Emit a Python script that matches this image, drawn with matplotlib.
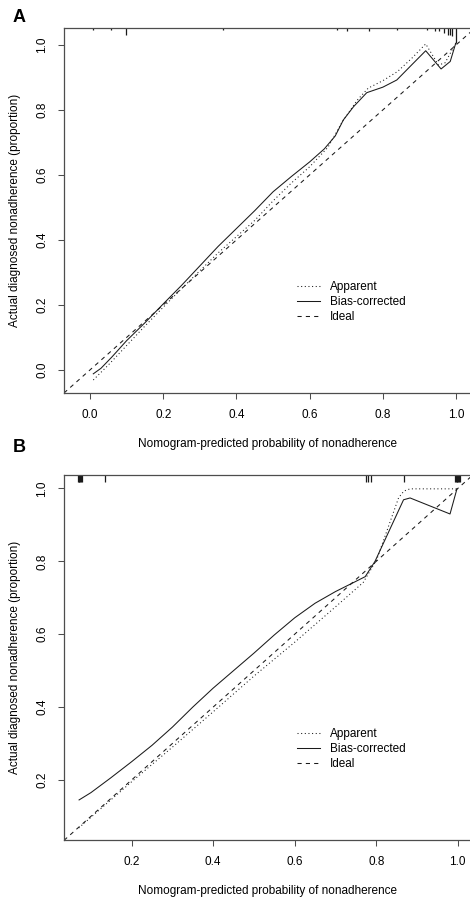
import numpy as np
import matplotlib
matplotlib.use("Agg")
import matplotlib.pyplot as plt

plt.rcParams["font.family"] = ["Liberation Sans", "DejaVu Sans"]
plt.rcParams["font.size"] = 8.5

# panel A: calibration curves
a_app_x = [0.009, 0.05, 0.10, 0.15, 0.20, 0.25, 0.30, 0.35, 0.40, 0.45, 0.50, 0.55,
           0.60, 0.65, 0.69, 0.73, 0.76, 0.80, 0.84, 0.88, 0.917, 0.952, 0.97, 0.999]
a_app_y = [-0.031, 0.015, 0.075, 0.135, 0.193, 0.25, 0.305, 0.36, 0.41, 0.46, 0.52, 0.575,
           0.625, 0.685, 0.765, 0.83, 0.867, 0.89, 0.918, 0.96, 1.003, 0.938, 0.945, 1.005]
a_bc_x = [0.009, 0.03, 0.06, 0.10, 0.15, 0.20, 0.25, 0.30, 0.35, 0.40, 0.45, 0.50, 0.55,
          0.60, 0.64, 0.67, 0.692, 0.72, 0.756, 0.80, 0.838, 0.88, 0.917, 0.959, 0.984, 0.999]
a_bc_y = [-0.012, 0.005, 0.04, 0.09, 0.145, 0.203, 0.26, 0.32, 0.38, 0.435, 0.49, 0.548, 0.595,
          0.64, 0.68, 0.72, 0.769, 0.81, 0.853, 0.87, 0.892, 0.94, 0.982, 0.926, 0.949, 1.005]
# panel A: spike histogram of predictions (relative heights)
a_spike_x = [0.007, 0.057, 0.098, 0.364, 0.674, 0.701, 0.761, 0.838, 0.92, 0.943,
             0.952, 0.968, 0.977, 0.984, 0.99, 0.999]
a_spike_h = [2, 2, 7, 2, 2, 3, 3, 2, 2, 3, 3, 5, 7, 7, 8, 15]

# panel B
b_app_x = [0.07, 0.20, 0.30, 0.40, 0.50, 0.60, 0.70, 0.768, 0.801, 0.855, 0.868, 0.883, 0.998]
b_app_y = [0.068, 0.195, 0.29, 0.387, 0.485, 0.578, 0.675, 0.742, 0.804, 0.975, 0.993, 0.999, 0.999]
b_bc_x = [0.071, 0.10, 0.148, 0.20, 0.25, 0.30, 0.35, 0.40, 0.45, 0.50, 0.55, 0.60, 0.65,
          0.70, 0.75, 0.773, 0.797, 0.867, 0.883, 0.981, 0.998]
b_bc_y = [0.145, 0.165, 0.205, 0.25, 0.295, 0.345, 0.40, 0.452, 0.50, 0.548, 0.598, 0.645, 0.685,
          0.717, 0.745, 0.758, 0.80, 0.969, 0.974, 0.93, 0.999]
b_spike_x = [0.068, 0.070, 0.072, 0.074, 0.076, 0.078, 0.134, 0.775, 0.779, 0.787, 0.868,
             0.993, 0.995, 0.997, 0.999, 1.001, 1.003, 1.005]
b_spike_h = [7] * len(b_spike_x)

xticks_a = [0.0, 0.2, 0.4, 0.6, 0.8, 1.0]
yticks_a = [0.0, 0.2, 0.4, 0.6, 0.8, 1.0]
xticks_b = [0.2, 0.4, 0.6, 0.8, 1.0]
yticks_b = [0.2, 0.4, 0.6, 0.8, 1.0]

line_col = "#1a1a1a"
axis_col = "#4d4d4d"

fig = plt.figure(figsize=(4.70, 8.99), dpi=100)
W, H = 470.0, 899.0


def panel(box, xlim, ylim, xticks, yticks, app, bc, spikes):
    left, top, right, bottom = box
    ax = fig.add_axes([left / W, 1 - bottom / H, (right - left) / W, (bottom - top) / H])
    ax.set_xlim(*xlim)
    ax.set_ylim(*ylim)
    lo = min(xlim[0], ylim[0])
    hi = max(xlim[1], ylim[1])
    ax.plot(app[0], app[1], color=line_col, lw=0.75, ls=(0, (1, 2.5)), label="Apparent")
    ax.plot(bc[0], bc[1], color=line_col, lw=0.75, ls="-", label="Bias-corrected")
    ax.plot([lo, hi], [lo, hi], color=line_col, lw=0.75, ls=(0, (4, 4)), label="Ideal")
    # spikes hanging from the top edge
    h_px = bottom - top
    ys = [1 - h / h_px for h in spikes[1]]
    ax.vlines(spikes[0], ys, 1.0, colors=line_col, lw=0.9, transform=ax.get_xaxis_transform())
    ax.set_xticks(xticks)
    ax.set_yticks(yticks)
    ax.set_xticklabels(["%.1f" % v for v in xticks])
    ax.set_yticklabels(["%.1f" % v for v in yticks], rotation=90, va="center")
    ax.tick_params(direction="out", length=4.5, width=0.75, colors=axis_col, labelcolor="black")
    ax.tick_params(axis="x", pad=7)
    ax.tick_params(axis="y", pad=7)
    ax.spines["right"].set_visible(False)
    for s in ["left", "bottom", "top"]:
        ax.spines[s].set_color(axis_col)
        ax.spines[s].set_linewidth(0.9)
    ax.legend(loc="center left", bbox_to_anchor=((297 - left) / (right - left), 0.25),
              frameon=False, handlelength=1.95, handletextpad=0.85, labelspacing=0.25,
              borderpad=0, borderaxespad=0, fontsize=8.5)
    return ax


axA = panel((64, 28, 470, 393), (-0.071, 1.038), (-0.071, 1.052), xticks_a, yticks_a,
            (a_app_x, a_app_y), (a_bc_x, a_bc_y), (a_spike_x, a_spike_h))
axB = panel((64, 475, 470, 840), (0.034, 1.03), (0.035, 1.037), xticks_b, yticks_b,
            (b_app_x, b_app_y), (b_bc_x, b_bc_y), (b_spike_x, b_spike_h))

xlab = "Nomogram-predicted probability of nonadherence"
ylab = "Actual diagnosed nonadherence (proportion)"
for top, bottom, xlab_y in [(28, 393, 444), (475, 840, 891)]:
    fig.text(267 / W, 1 - xlab_y / H, xlab, ha="center", va="center", fontsize=8.5)
    fig.text(15 / W, 1 - (top + bottom) / 2 / H, ylab, ha="center", va="center",
             rotation=90, fontsize=8.5)
fig.text(19.5 / W, 1 - 18 / H, "A", ha="center", va="center", fontsize=13, fontweight="bold")
fig.text(19.5 / W, 1 - 448 / H, "B", ha="center", va="center", fontsize=13, fontweight="bold")

fig.savefig("out.png", dpi=100)
